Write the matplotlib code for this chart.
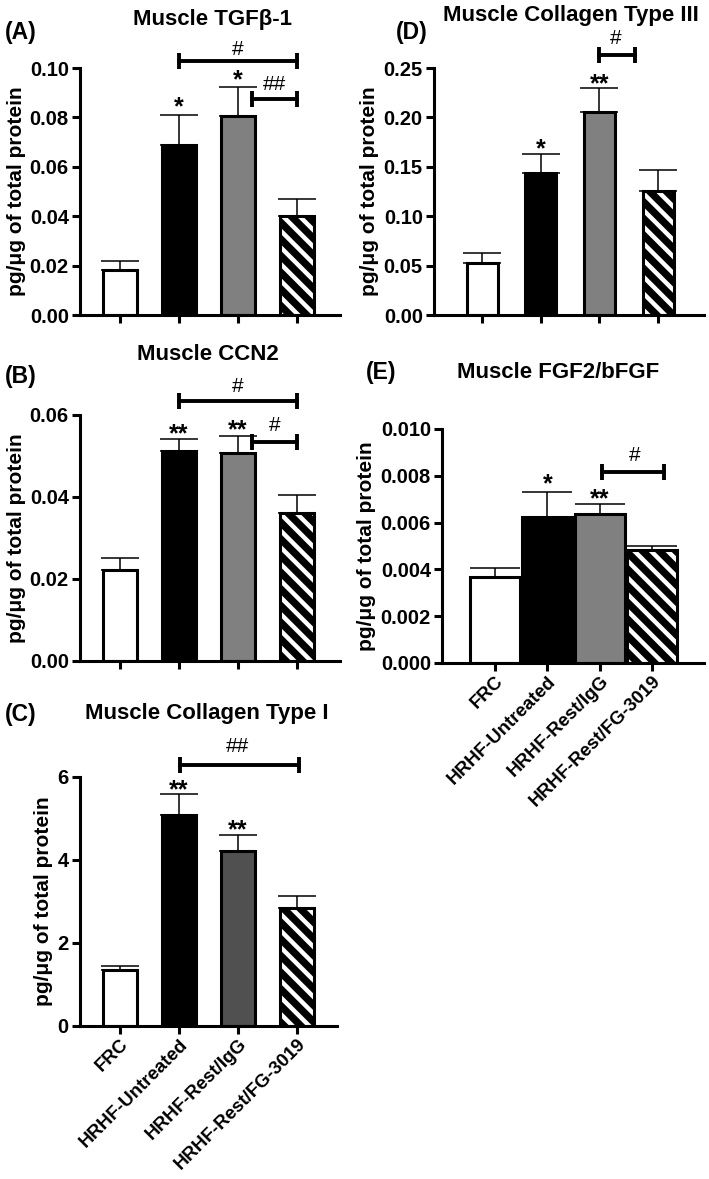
import matplotlib
matplotlib.use('Agg')
import matplotlib.pyplot as plt
import numpy as np

# group names and bar styles
GROUPS = ['FRC', 'HRHF-Untreated', 'HRHF-Rest/IgG', 'HRHF-Rest/FG-3019']

# (A) Muscle TGFb-1
TGF_MEAN = [0.0182, 0.0689, 0.0804, 0.0401]
TGF_TOP = [0.0219, 0.0808, 0.0922, 0.0469]
# (B) Muscle CCN2
CCN2_MEAN = [0.0221, 0.0511, 0.0508, 0.0361]
CCN2_TOP = [0.0252, 0.0541, 0.0549, 0.0404]
# (C) Muscle Collagen Type I
COL1_MEAN = [1.34, 5.09, 4.22, 2.85]
COL1_TOP = [1.44, 5.59, 4.59, 3.13]
# (D) Muscle Collagen Type III
COL3_MEAN = [0.053, 0.1436, 0.206, 0.1257]
COL3_TOP = [0.0625, 0.1632, 0.2297, 0.1463]
# (E) Muscle FGF2/bFGF
FGF_MEAN = [0.00367, 0.00622, 0.00636, 0.00482]
FGF_TOP = [0.00407, 0.00729, 0.00679, 0.00500]

# significance marks: (x, y, text)
TGF_STARS = [(1, 0.087, '*'), (2, 0.098, '*')]
TGF_HASH = [(2, 0.1085, '#'), (2.62, 0.0943, '##')]
TGF_BRACKETS = [(1, 3, 0.1028), (2.24, 3, 0.0874)]

CCN2_STARS = [(1, 0.0572, '**'), (2, 0.0580, '**')]
CCN2_HASH = [(2, 0.0673, '#'), (2.63, 0.0578, '#')]
CCN2_BRACKETS = [(1, 3, 0.0634), (2.24, 3, 0.0535)]

COL1_STARS = [(1, 5.85, '**'), (2, 4.89, '**')]
COL1_HASH = [(2, 6.78, '##')]
COL1_BRACKETS = [(1.02, 3.03, 6.28)]

COL3_STARS = [(1, 0.1757, '*'), (2, 0.2416, '**')]
COL3_HASH = [(2.28, 0.282, '#')]
COL3_BRACKETS = [(2, 2.6, 0.2635)]

FGF_STARS = [(1, 0.00797, '*'), (2, 0.00732, '**')]
FGF_HASH = [(2.66, 0.00897, '#')]
FGF_BRACKETS = [(2.05, 3.23, 0.00818)]

plt.rcParams['font.family'] = ['Liberation Sans', 'DejaVu Sans']
plt.rcParams['font.weight'] = 'bold'
plt.rcParams['hatch.linewidth'] = 3.2

LW = 2.2
FS_TICK = 14.5
FS_LABEL = 15
FS_TITLE = 16

fig = plt.figure(figsize=(7.09, 11.79), dpi=100)


def draw_panel(rect, means, tops, ylim, yticks, yfmt, xlim, width, gray,
               capsize, stars, hashes, brackets, show_labels=False):
    ax = fig.add_axes(rect)
    x = np.arange(len(means))
    fills = ['white', 'black', gray]
    sem = np.array(tops) - np.array(means)
    ax.errorbar(x, means, yerr=[np.zeros(len(means)), sem], fmt='none',
                ecolor='black', elinewidth=1.1, capsize=capsize,
                capthick=1.1, zorder=1)
    for i in range(3):
        ax.bar(x[i], means[i], width=width, color=fills[i],
               edgecolor='black', linewidth=LW, zorder=2)
    # hatched bar: white stripes on black, then black outline
    ax.bar(x[3], means[3], width=width, color='black', edgecolor='white',
           hatch='\\\\', linewidth=0, zorder=2)
    ax.bar(x[3], means[3], width=width, color='none', edgecolor='black',
           linewidth=LW, zorder=3)

    ax.set_xlim(*xlim)
    ax.set_ylim(*ylim)
    ax.set_yticks(yticks)
    ax.set_yticklabels([yfmt.format(v) for v in yticks])
    ax.set_xticks(x)
    for s in ['top', 'right']:
        ax.spines[s].set_visible(False)
    for s in ['left', 'bottom']:
        ax.spines[s].set_linewidth(LW)
    ax.tick_params(width=LW, length=6)
    ax.tick_params(axis='y', labelsize=FS_TICK, pad=2)
    ax.tick_params(axis='x', pad=1)
    if show_labels:
        ax.set_xticklabels(GROUPS, rotation=45, ha='right',
                           rotation_mode='anchor', fontsize=13.5)
    else:
        ax.set_xticklabels([])
    ax.set_ylabel('pg/μg of total protein', fontsize=FS_LABEL,
                  fontweight='bold', labelpad=3)

    for xs, ys, t in stars:
        ax.annotate(t, xy=(xs, ys), xytext=(0, -0.58 * 18),
                    textcoords='offset points', ha='center', va='baseline',
                    fontsize=18, fontweight='bold', annotation_clip=False)
    for xs, ys, t in hashes:
        ax.annotate(t, xy=(xs, ys), xytext=(0, -0.36 * 15),
                    textcoords='offset points', ha='center', va='baseline',
                    fontsize=15, fontweight='normal', annotation_clip=False)
    for x1, x2, yb in brackets:
        ax.plot([x1, x2], [yb, yb], color='black', linewidth=LW + 0.6,
                marker='|', markersize=11, markeredgewidth=LW + 0.6,
                clip_on=False, zorder=4)
    return ax


draw_panel([0.1128, 0.7328, 0.3667, 0.2095], TGF_MEAN, TGF_TOP,
           (0, 0.10), [0, 0.02, 0.04, 0.06, 0.08, 0.10], '{:.2f}',
           (-0.68, 3.73), 0.57, '#808080', 14, TGF_STARS, TGF_HASH, TGF_BRACKETS)
draw_panel([0.1128, 0.4394, 0.3667, 0.2087], CCN2_MEAN, CCN2_TOP,
           (0, 0.06), [0, 0.02, 0.04, 0.06], '{:.2f}',
           (-0.68, 3.73), 0.57, '#808080', 14, CCN2_STARS, CCN2_HASH, CCN2_BRACKETS)
draw_panel([0.1128, 0.1298, 0.3625, 0.2112], COL1_MEAN, COL1_TOP,
           (0, 6), [0, 2, 4, 6], '{:.0f}',
           (-0.68, 3.68), 0.57, '#505050', 14, COL1_STARS, COL1_HASH, COL1_BRACKETS,
           show_labels=True)
draw_panel([0.6121, 0.7328, 0.3808, 0.2095], COL3_MEAN, COL3_TOP,
           (0, 0.25), [0, 0.05, 0.10, 0.15, 0.20, 0.25], '{:.2f}',
           (-0.82, 3.78), 0.53, '#808080', 14, COL3_STARS, COL3_HASH, COL3_BRACKETS)
draw_panel([0.6234, 0.4377, 0.3695, 0.1985], FGF_MEAN, FGF_TOP,
           (0, 0.010), [0, 0.002, 0.004, 0.006, 0.008, 0.010], '{:.3f}',
           (-1.01, 3.99), 0.95, '#808080', 18, FGF_STARS, FGF_HASH, FGF_BRACKETS,
           show_labels=True)

H = 1179.0
W = 709.0
titles = [
    (213, 20, 'Muscle TGFβ-1'),
    (208, 355, 'Muscle CCN2'),
    (207, 714, 'Muscle Collagen Type I'),
    (571, 16, 'Muscle Collagen Type III'),
    (558, 373, 'Muscle FGF2/bFGF'),
]
for tx, ty, t in titles:
    fig.text(tx / W, 1 - ty / H, t, ha='center', va='center',
             fontsize=FS_TITLE, fontweight='bold')

panel_labels = [(5, 33, '(A)'), (5, 377, '(B)'), (5, 714, '(C)'),
                (396, 33, '(D)'), (366, 373, '(E)')]
for tx, ty, t in panel_labels:
    fig.text(tx / W, 1 - ty / H, t, ha='left', va='center',
             fontsize=16.5, fontweight='bold')

plt.savefig('out.png', dpi=100)
